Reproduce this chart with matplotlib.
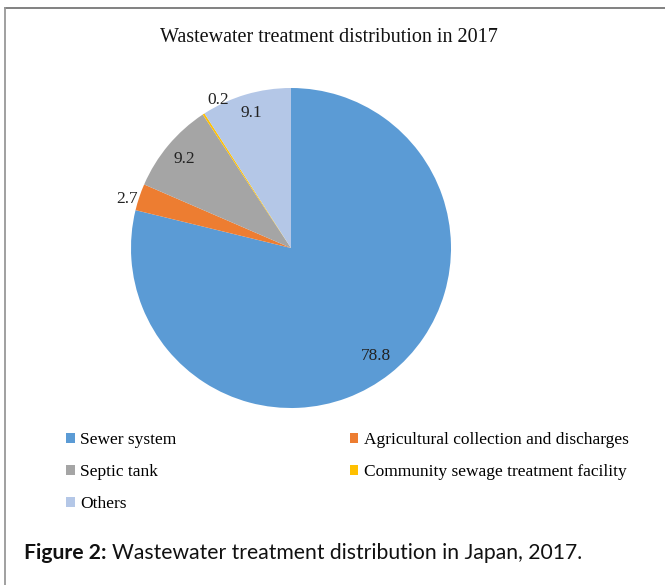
import numpy as np
import matplotlib
matplotlib.use("Agg")
import matplotlib.pyplot as plt
from matplotlib.lines import Line2D

categories = ["Sewer system", "Agricultural collection and discharges", "Septic tank",
              "Community sewage treatment facility", "Others"]
values = [78.8, 2.7, 9.2, 0.2, 9.1]
value_labels = ["78.8", "2.7", "9.2", "0.2", "9.1"]
colors = ["#5B9BD5", "#ED7D31", "#A5A5A5", "#FFC000", "#B4C7E7"]

# label placement (radius in pie units, angle offset in degrees)
label_r = [0.86, 1.07, 0.87, 1.03, 0.88]
label_dang = [0, 2, 0, -7, 0]

W, H = 665, 585
fig = plt.figure(figsize=(W / 100, H / 100), dpi=100)
fig.patch.set_facecolor("white")

serif = "Liberation Serif"

# pie axes: centre (291,248) px, radius 160 px
cx, cy, r = 291, 248, 160
ax = fig.add_axes([(cx - r) / W, (H - cy - r) / H, 2 * r / W, 2 * r / H])
wedges, _ = ax.pie(values, colors=colors, startangle=90, counterclock=False,
                   radius=1.0, wedgeprops=dict(linewidth=0))
ax.set_xlim(-1, 1)
ax.set_ylim(-1, 1)
ax.set_aspect("equal")
ax.axis("off")

for w, lab, lr, da in zip(wedges, value_labels, label_r, label_dang):
    ang = np.deg2rad((w.theta1 + w.theta2) / 2 + da)
    ax.text(lr * np.cos(ang), lr * np.sin(ang), lab, ha="center", va="center",
            fontsize=12.5, family=serif, color="#222222")

fig.text(329 / W, 1 - 38 / H, "Wastewater treatment distribution in 2017",
         ha="center", va="center", fontsize=14.5, family=serif, color="#111111")

order = [0, 2, 4, 1, 3]
leg = fig.legend([wedges[i] for i in order], [categories[i] for i in order],
                 ncol=2, loc="upper left", bbox_to_anchor=(66 / W, 1 - 432 / H),
                 frameon=False, prop=dict(family=serif, size=12.5),
                 handlelength=0.5, handleheight=0.5, handletextpad=0.3,
                 labelspacing=0.93, columnspacing=10.0, borderaxespad=0, borderpad=0)

cap_y = 1 - 553 / H
t1 = fig.text(24 / W, cap_y, "Figure 2:", ha="left", va="center",
              fontsize=15.2, family="Lato", weight="bold", color="#111111")
renderer = fig.canvas.get_renderer()
bb = t1.get_window_extent(renderer=renderer)
fig.text((bb.x1 + 5) / W, cap_y, "Wastewater treatment distribution in Japan, 2017.",
         ha="left", va="center", fontsize=15.2, family="Lato", color="#111111")

# partial frame (top and left)
fig.add_artist(Line2D([5 / W, 1], [1 - 8 / H, 1 - 8 / H], transform=fig.transFigure,
                      color="#777777", linewidth=1.3))
fig.add_artist(Line2D([5 / W, 5 / W], [0, 1 - 8 / H], transform=fig.transFigure,
                      color="#999999", linewidth=1.3))

fig.savefig("out.png", dpi=100, facecolor="white")
